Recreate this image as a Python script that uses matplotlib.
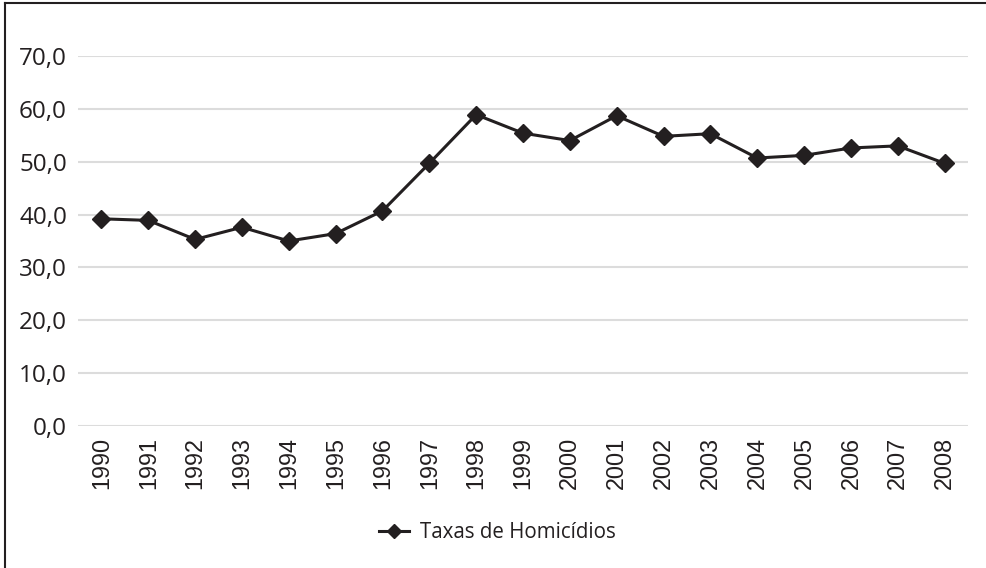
import matplotlib
matplotlib.use("Agg")
import matplotlib.pyplot as plt
from matplotlib.lines import Line2D

years = ["1990", "1991", "1992", "1993", "1994", "1995", "1996", "1997", "1998", "1999",
         "2000", "2001", "2002", "2003", "2004", "2005", "2006", "2007", "2008"]
taxas = [39.2, 38.9, 35.3, 37.6, 35.0, 36.4, 40.7, 49.7, 58.9, 55.4,
         54.0, 58.7, 54.8, 55.3, 50.7, 51.2, 52.6, 53.0, 49.7]
yticks = [0, 10, 20, 30, 40, 50, 60, 70]
series_name = "Taxas de Homicídios"

W, H = 986, 568
fig = plt.figure(figsize=(W / 100, H / 100), dpi=100)
ax = fig.add_axes([78 / W, 1 - 426 / H, (968 - 78) / W, (426 - 56) / H])

x = list(range(len(years)))
line, = ax.plot(x, taxas, color="#231f20", lw=2.2, marker="D", markersize=9.5,
                markerfacecolor="#231f20", markeredgecolor="#231f20", label=series_name,
                zorder=3)

ax.set_xlim(-0.5, len(years) - 0.5)
ax.set_ylim(0, 70)
ax.set_yticks(yticks)
ax.set_yticklabels([f"{v:.1f}".replace(".", ",") for v in yticks],
                   fontfamily="Open Sans", fontsize=17.5, color="#231f20")
ax.set_xticks(x)
ax.set_xticklabels(years, rotation=90, fontfamily="Liberation Sans", fontsize=16.8,
                   color="#231f20", va="top")
ax.tick_params(axis="both", length=0)
ax.tick_params(axis="x", pad=8)
ax.tick_params(axis="y", pad=8)
for s in ax.spines.values():
    s.set_visible(False)
ax.yaxis.grid(True, color="#dcdcdc", lw=1.5)
ax.set_axisbelow(True)

leg = fig.legend(handles=[line], labels=[series_name], loc="center",
                 bbox_to_anchor=(497 / W, 1 - 533 / H), frameon=False,
                 prop={"family": "Open Sans", "size": 14.8}, handlelength=1.5,
                 handletextpad=0.5, markerscale=0.75)
for t in leg.get_texts():
    t.set_color("#231f20")

# partial frame border (left and top)
fig.add_artist(Line2D([5 / W, 5 / W], [0, 1 - 3 / H], color="#231f20", lw=1.5,
                      transform=fig.transFigure))
fig.add_artist(Line2D([5 / W, 1], [1 - 3 / H, 1 - 3 / H], color="#231f20", lw=1.5,
                      transform=fig.transFigure))

fig.savefig("out.png", dpi=100, facecolor="white")
